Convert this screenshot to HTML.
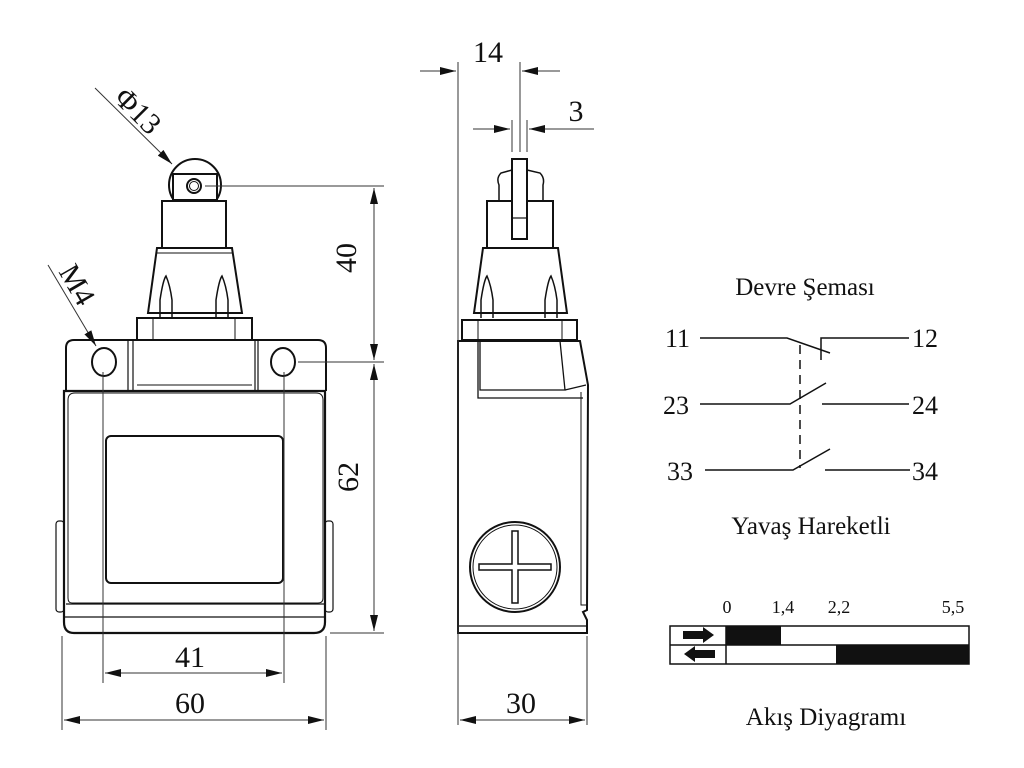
<!DOCTYPE html>
<html><head><meta charset="utf-8"><style>html,body{margin:0;padding:0;background:#fff}svg{display:block}text{font-family:"Liberation Serif",serif;fill:#111}</style></head>
<body>
<svg width="1024" height="768" viewBox="0 0 1024 768" xmlns="http://www.w3.org/2000/svg">
<defs>
<marker id="a" viewBox="0 0 16 8" refX="16" refY="4" markerWidth="16" markerHeight="8" markerUnits="userSpaceOnUse" orient="auto-start-reverse"><path d="M0,0 L16,4 L0,8z" fill="#111"/></marker>
</defs>
<g stroke="#111" fill="none" stroke-width="2">
<!-- FRONT VIEW -->
<circle cx="195" cy="185" r="26"/>
<rect x="173" y="174" width="44" height="26" fill="#fff"/>
<circle cx="194" cy="186" r="7"/><circle cx="194" cy="186" r="4.5" stroke-width="1"/>
<rect x="162" y="201" width="64" height="47" fill="#fff"/>
<path d="M157,248 L232,248 L242,313 L148,313 Z" fill="#fff"/>
<path d="M157,253 L232,253" stroke-width="1"/>
<path d="M160,318 L160,300 Q163,280 166,276 Q170,285 172,300 L172,318" stroke-width="1.5"/>
<path d="M216,318 L216,300 Q219,280 222,276 Q226,285 228,300 L228,318" stroke-width="1.5"/>
<rect x="137" y="318" width="115" height="22" fill="#fff"/>
<path d="M153,318 V340 M235,318 V340" stroke-width="1"/>
<path d="M66,391 L66,348 Q66,340 74,340 L318,340 Q326,340 326,348 L326,391" fill="#fff"/>
<path d="M128,340 V391 M133,340 V391 M255,340 V391 M258,340 V391" stroke-width="1.2"/>
<path d="M137,385 H252 M137,391 H252" stroke-width="1"/>
<ellipse cx="104" cy="362" rx="12" ry="14"/>
<ellipse cx="283" cy="362" rx="12" ry="14"/>
<rect x="56" y="521" width="8" height="91" rx="3" stroke-width="1.2"/>
<rect x="325" y="521" width="8" height="91" rx="3" stroke-width="1.2"/>
<path d="M64,391 H325 V622 Q325,633 314,633 H74 Q64,633 64,622 Z" fill="#fff" stroke-width="2.2"/>
<path d="M66,604 H324 M64,617 H325" stroke-width="1.2"/>
<path d="M68,400 Q68,393 75,393 H316 Q323,393 323,400 V598 Q323,603 318,603 H72 Q68,603 68,598 Z" stroke-width="1"/>
<rect x="106" y="436" width="177" height="147" rx="5" stroke-width="2"/>
</g>
<!-- front dims -->
<g stroke="#333" stroke-width="1" fill="none">
<path d="M205,186 H384 M298,362 H384 M330,633 H384"/>
<line x1="374" y1="188" x2="374" y2="360" marker-start="url(#a)" marker-end="url(#a)"/>
<line x1="374" y1="364" x2="374" y2="631" marker-start="url(#a)" marker-end="url(#a)"/>
<path d="M103,372 V683 M284,372 V683 M62,636 V730 M326,636 V730"/>
<line x1="105" y1="673" x2="282" y2="673" marker-start="url(#a)" marker-end="url(#a)"/>
<line x1="64" y1="720" x2="324" y2="720" marker-start="url(#a)" marker-end="url(#a)"/>
<line x1="95" y1="88" x2="172" y2="164" marker-end="url(#a)"/>
<line x1="48" y1="265" x2="96" y2="346" marker-end="url(#a)"/>
</g>
<text x="366" y="268" font-size="30" text-anchor="middle" transform="rotate(-90 356 268)">40</text>
<text x="368" y="487" font-size="30" text-anchor="middle" transform="rotate(-90 358 487)">62</text>
<text x="190" y="667" font-size="30" text-anchor="middle">41</text>
<text x="190" y="713" font-size="30" text-anchor="middle">60</text>
<text x="140" y="120" font-size="30" text-anchor="middle" transform="rotate(45 138 108)">Φ13</text>
<text x="80" y="294" font-size="30" text-anchor="middle" transform="rotate(60 78 282)">M4</text>

<!-- SIDE VIEW -->
<g stroke="#111" fill="none" stroke-width="2">
<path d="M499,201 L499,185 Q496,178 501,173 L512,170 M527,170 L540,173 Q545,178 543,185 L543,201" stroke-width="1.5"/>
<rect x="487" y="201" width="66" height="47" fill="#fff"/>
<rect x="512" y="159" width="15" height="80" fill="#fff"/>
<path d="M512,218 H527" stroke-width="1.2"/>
<path d="M483,248 L558,248 L567,313 L474,313 Z" fill="#fff"/>
<path d="M481,318 V300 Q484,280 487,276 Q491,285 493,300 V318" stroke-width="1.5"/>
<path d="M545,318 V300 Q548,280 551,276 Q555,285 557,300 V318" stroke-width="1.5"/>
<rect x="462" y="320" width="115" height="20" fill="#fff"/>
<path d="M478,320 V340 M562,320 V340" stroke-width="1"/>
<path d="M458,341 H580 L588,385 L587,610 L583,612 L587,620 V633 H458 Z" fill="#fff"/>
<path d="M478,341 V398 H583 M480,341 V390 H565 L560,341 M565,390 L586,385" stroke-width="1.3"/>
<path d="M581,392 V605 H588" stroke-width="1"/>
<path d="M458,626 H587" stroke-width="1.2"/>
<circle cx="515" cy="567" r="45"/><circle cx="515" cy="567" r="42" stroke-width="1"/>
<path d="M512,531 H518 V564 H551 V570 H518 V603 H512 V570 H479 V564 H512 Z" stroke-width="1.5"/>
</g>
<g stroke="#333" stroke-width="1" fill="none">
<path d="M458,62 V725 M520,62 V152 M512,120 V152 M527,120 V152 M587,636 V725"/>
<line x1="420" y1="71" x2="456" y2="71" marker-end="url(#a)"/>
<line x1="560" y1="71" x2="522" y2="71" marker-end="url(#a)"/>
<line x1="473" y1="129" x2="510" y2="129" marker-end="url(#a)"/>
<line x1="594" y1="129" x2="529" y2="129" marker-end="url(#a)"/>
<line x1="460" y1="720" x2="585" y2="720" marker-start="url(#a)" marker-end="url(#a)"/>
</g>
<text x="488" y="62" font-size="30" text-anchor="middle">14</text>
<text x="576" y="121" font-size="30" text-anchor="middle">3</text>
<text x="521" y="713" font-size="30" text-anchor="middle">30</text>

<!-- CIRCUIT -->
<text x="805" y="295" font-size="25" text-anchor="middle">Devre Şeması</text>
<g stroke="#111" stroke-width="1.5" fill="none">
<path d="M700,338 H787 L830,353 M821,360 V338 H909"/>
<path d="M700,404 H790 L826,383 M822,404 H909"/>
<path d="M705,470 H793 L830,449 M825,470 H910"/>
<path d="M800,345 V468" stroke-dasharray="9,6"/>
</g>
<g font-size="26">
<text x="665" y="347">11</text><text x="912" y="347">12</text>
<text x="663" y="414">23</text><text x="912" y="414">24</text>
<text x="667" y="480">33</text><text x="912" y="480">34</text>
</g>
<text x="811" y="534" font-size="25" text-anchor="middle">Yavaş Hareketli</text>

<!-- FLOW -->
<g font-size="18" text-anchor="middle">
<text x="727" y="613">0</text><text x="783" y="613">1,4</text><text x="839" y="613">2,2</text><text x="953" y="613">5,5</text>
</g>
<rect x="726" y="626" width="55" height="19" fill="#111"/>
<rect x="836" y="645" width="133" height="19" fill="#111"/>
<g stroke="#111" stroke-width="1.5" fill="none">
<rect x="670" y="626" width="299" height="38"/>
<path d="M670,645 H969 M726,626 V664"/>
</g>
<path d="M683,631 H703 V627 L714,635 L703,643 V639 H683 Z" fill="#111"/>
<path d="M715,650 H695 V646 L684,654 L695,662 V658 H715 Z" fill="#111"/>
<text x="826" y="725" font-size="25" text-anchor="middle">Akış Diyagramı</text>
</svg>
</body></html>
